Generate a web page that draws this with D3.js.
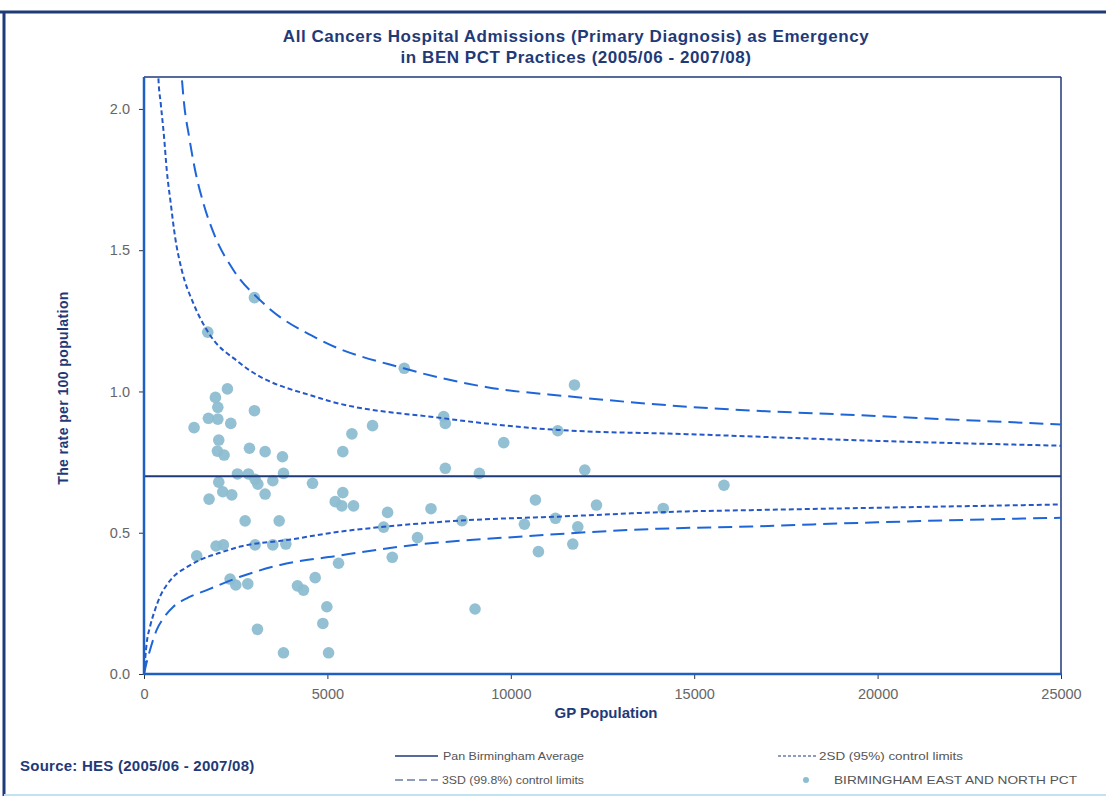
<!DOCTYPE html>
<html><head><meta charset="utf-8">
<script src="https://cdn.jsdelivr.net/npm/d3@7"></script>
<style>
body{margin:0;background:#fff;}
svg{display:block;font-family:"Liberation Sans",Arial,sans-serif;}
</style></head>
<body><svg id="c" width="1106" height="796"></svg>
<script>
// ---- data ----
const titleLines = ["All Cancers Hospital Admissions (Primary Diagnosis) as Emergency",
                    "in BEN PCT Practices (2005/06  - 2007/08)"];
const xTicks = [0, 5000, 10000, 15000, 20000, 25000];
const yTicks = [0.0, 0.5, 1.0, 1.5, 2.0];
const average = 0.70;
// practices: [GP population, rate per 100]
const practices = [
 [1738,1.21],[3011,1.332],[7096,1.082],[11736,1.023],[2274,1.009],[1947,0.979],[2012,0.944],
 [3011,0.932],[1756,0.905],[2012,0.902],[2366,0.887],[1365,0.872],[2038,0.828],[2875,0.799],
 [3302,0.787],[2001,0.789],[2183,0.775],[3775,0.769],[3803,0.710],[2547,0.708],[2847,0.708],
 [3029,0.689],[3103,0.672],[3512,0.684],[4594,0.675],[2038,0.679],[2147,0.645],[2393,0.634],
 [3302,0.637],[1774,0.619],[5213,0.610],[2757,0.542],[3685,0.542],[1437,0.418],[1965,0.453],
 [2165,0.457],[3029,0.457],[3512,0.457],[3867,0.460],[2347,0.336],[2502,0.315],[2830,0.319],
 [4667,0.341],[4184,0.312],[4348,0.297],[4985,0.238],[4876,0.179],[3093,0.158],[3803,0.075],
 [5032,0.075],[5668,0.850],[5420,0.787],[8215,0.728],[9143,0.710],[12017,0.722],[9807,0.819],
 [5420,0.642],[5393,0.595],[5713,0.595],[6641,0.572],[7824,0.585],[6532,0.520],[7457,0.483],
 [8670,0.543],[10671,0.616],[10371,0.530],[11218,0.551],[12336,0.598],[11826,0.521],[11690,0.460],
 [10753,0.433],[14156,0.586],[15811,0.668],[5303,0.392],[6769,0.413],[9025,0.230],[6231,0.879],
 [8170,0.911],[8215,0.887],[11281,0.861]
];
// control limits: [population, rate]
const upper3SD = [[960,2.25],[1029,2.113],[1092,2.02],[1229,1.902],[1392,1.784],[1620,1.666],[1938,1.548],
 [2437,1.43],[3256,1.312],[4803,1.182],[7077,1.082],[9353,1.015],[11627,0.982],[14812,0.946],
 [20000,0.913],[25000,0.883]];
const upper2SD = [[360,2.25],[391,2.113],[456,2.02],[546,1.902],[620,1.784],[729,1.666],[846,1.548],
 [1029,1.43],[1346,1.312],[1738,1.212],[2620,1.10],[4803,0.976],[8170,0.905],[11263,0.864],
 [14800,0.849],[20000,0.825],[25000,0.808]];
const lower2SD = [[0,0],[73,0.109],[164,0.167],[300,0.227],[437,0.274],[619,0.315],[800,0.344],
 [1165,0.378],[1528,0.404],[2074,0.429],[2620,0.451],[3894,0.474],[5349,0.504],[6532,0.521],
 [8624,0.543],[11263,0.557],[14629,0.575],[16539,0.58],[25000,0.60]];
const lower3SD = [[0,0],[70,0.04],[164,0.085],[346,0.156],[528,0.197],[800,0.238],[1200,0.27],
 [1711,0.297],[2620,0.344],[3712,0.386],[5259,0.418],[6987,0.451],[10445,0.488],[14000,0.514],
 [16539,0.522],[20000,0.537],[25000,0.553]];
const legendLabels = ["Pan Birmingham Average","2SD (95%) control limits","3SD (99.8%) control limits","BIRMINGHAM EAST AND NORTH PCT"];
const sourceText = "Source: HES (2005/06 - 2007/08)";

// ---- drawing ----
const svg = d3.select("#c");
const navy = "#1f3a78", blue = "#1f5fc4", dashBlue = "#2458c8", longBlue = "#1e66d8";
const L = 144, R = 1061, T = 77, B = 674;
const x = d3.scaleLinear().domain([0,25000]).range([L,R]);
const y = d3.scaleLinear().domain([0,2.113]).range([B,T]);

// outer frame
svg.append("line").attr("x1",0).attr("x2",1106).attr("y1",12).attr("y2",12).attr("stroke",navy).attr("stroke-width",3);
svg.append("line").attr("x1",4).attr("x2",4).attr("y1",12).attr("y2",796).attr("stroke",navy).attr("stroke-width",3);
svg.append("line").attr("x1",4).attr("x2",1106).attr("y1",795).attr("y2",795).attr("stroke","#bfe3f0").attr("stroke-width",2);

// title
svg.append("g").selectAll("text").data(titleLines).join("text")
  .attr("x",576).attr("y",(d,i)=>42+i*21).attr("text-anchor","middle")
  .attr("font-size",17).attr("letter-spacing",0.55).attr("font-weight","bold").attr("fill",navy).text(d=>d);

svg.append("defs").append("clipPath").attr("id","clip")
  .append("rect").attr("x",L).attr("y",T).attr("width",R-L).attr("height",B-T);

// axes
const yAxis = svg.append("g").attr("transform",`translate(${L},0)`)
  .call(d3.axisLeft(y).tickValues(yTicks).tickFormat(d3.format(".1f")).tickSize(5).tickPadding(9));
const xAxis = svg.append("g").attr("transform",`translate(0,${B})`)
  .call(d3.axisBottom(x).tickValues(xTicks).tickFormat(d3.format("d")).tickSize(5).tickPadding(10));
[yAxis,xAxis].forEach(g=>{
  g.select(".domain").remove();
  g.selectAll(".tick line").attr("stroke","#333");
  g.selectAll("text").attr("fill","#666").attr("font-size",14.5);
});

// plot border
svg.append("line").attr("x1",L).attr("x2",R).attr("y1",T).attr("y2",T).attr("stroke",navy).attr("stroke-width",1.5);
svg.append("line").attr("x1",R).attr("x2",R).attr("y1",T).attr("y2",B).attr("stroke",navy).attr("stroke-width",1.5);

const plot = svg.append("g").attr("clip-path","url(#clip)");
const line = d3.line().x(d=>x(d[0])).y(d=>y(d[1])).curve(d3.curveMonotoneX);

// points
plot.append("g").selectAll("circle").data(practices).join("circle")
  .attr("cx",d=>x(d[0])).attr("cy",d=>y(d[1])).attr("r",5.8)
  .attr("fill","#8dbdd0").attr("opacity",0.95);

// average
plot.append("line").attr("x1",x(0)).attr("x2",x(25000)).attr("y1",y(average)).attr("y2",y(average))
  .attr("stroke",navy).attr("stroke-width",2);

// limits
[upper2SD,lower2SD].forEach(s=>plot.append("path").attr("d",line(s)).attr("fill","none")
  .attr("stroke",dashBlue).attr("stroke-width",2).attr("stroke-dasharray","5,3"));
[upper3SD,lower3SD].forEach(s=>plot.append("path").attr("d",line(s)).attr("fill","none")
  .attr("stroke",longBlue).attr("stroke-width",2).attr("stroke-dasharray","14,7"));

svg.append("line").attr("x1",L).attr("x2",L).attr("y1",T).attr("y2",B+1).attr("stroke",blue).attr("stroke-width",2.5);
svg.append("line").attr("x1",L).attr("x2",R+1).attr("y1",B).attr("y2",B).attr("stroke",blue).attr("stroke-width",2.5);

// axis titles
svg.append("text").attr("transform","translate(68,388) rotate(-90)").attr("text-anchor","middle")
  .attr("font-size",14).attr("letter-spacing",0.4).attr("font-weight","bold").attr("fill",navy).text("The rate per 100 population");
svg.append("text").attr("x",606).attr("y",718).attr("text-anchor","middle")
  .attr("font-size",15).attr("font-weight","bold").attr("fill",navy).text("GP Population");

// source
svg.append("text").attr("x",20).attr("y",771).attr("font-size",15).attr("letter-spacing",0.25).attr("font-weight","bold")
  .attr("fill",navy).text(sourceText);

// legend
const lg = svg.append("g").attr("font-size",11.5).attr("fill","#555");
lg.append("line").attr("x1",395).attr("x2",438).attr("y1",756).attr("y2",756).attr("stroke",navy).attr("stroke-width",1.5);
lg.append("text").attr("x",443).attr("y",760).attr("textLength",141).attr("lengthAdjust","spacingAndGlyphs").text(legendLabels[0]);
lg.append("line").attr("x1",778).attr("x2",818).attr("y1",756).attr("y2",756).attr("stroke",navy).attr("stroke-width",1).attr("stroke-dasharray","3,2");
lg.append("text").attr("x",819).attr("y",760).attr("textLength",144).attr("lengthAdjust","spacingAndGlyphs").text(legendLabels[1]);
lg.append("line").attr("x1",395).attr("x2",438).attr("y1",780).attr("y2",780).attr("stroke",navy).attr("stroke-width",1).attr("stroke-dasharray","8,4");
lg.append("text").attr("x",442).attr("y",784).attr("textLength",142).attr("lengthAdjust","spacingAndGlyphs").text(legendLabels[2]);
lg.append("circle").attr("cx",806).attr("cy",780).attr("r",3).attr("fill","#8dbdd0");
lg.append("text").attr("x",834).attr("y",784).attr("textLength",243).attr("lengthAdjust","spacingAndGlyphs").text(legendLabels[3]);
</script></body></html>
